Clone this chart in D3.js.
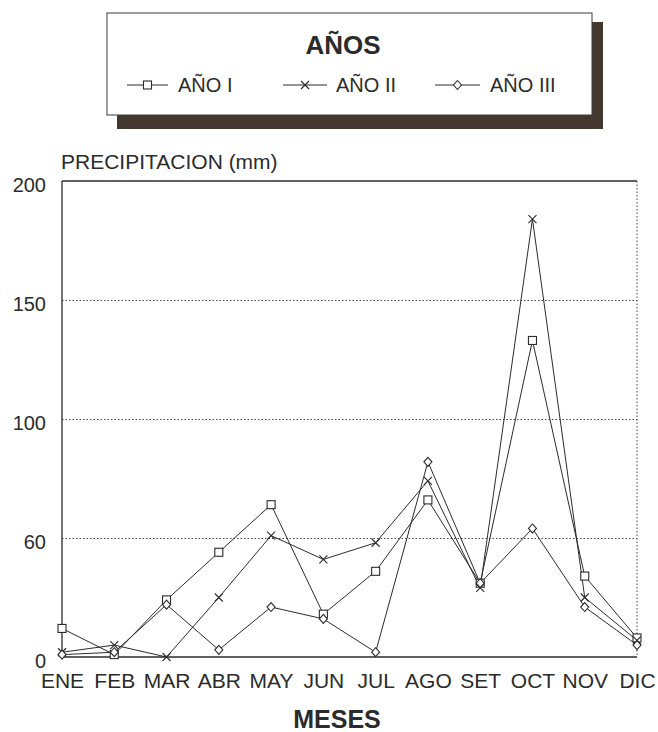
<!DOCTYPE html>
<html>
<head>
<meta charset="utf-8">
<script src="https://cdn.jsdelivr.net/npm/d3@7"></script>
<style>
  html, body { margin: 0; padding: 0; background: #ffffff; }
  svg { display: block; }
  text { font-family: "Liberation Sans", Arial, Helvetica, sans-serif; fill: #2b2b2b; }
</style>
</head>
<body>
<svg id="chart" width="658" height="732"></svg>
<script>
// ---- data ----
const months = ["ENE","FEB","MAR","ABR","MAY","JUN","JUL","AGO","SET","OCT","NOV","DIC"];
const anio1 = [12, 1, 24, 44, 64, 18, 36, 66, 31, 133, 34, 8];
const anio2 = [2, 5, 0, 25, 51, 41, 48, 74, 29, 184, 25, 7];
const anio3 = [1, 2, 22, 3, 21, 16, 2, 82, 31, 54, 21, 5];
const yTickValues = [0, 50, 100, 150, 200];
const yTickLabels = ["0", "60", "100", "150", "200"];
const seriesNames = ["AÑO I", "AÑO II", "AÑO III"];

(function () {
const ink = "#2b2b2b";
const svg = d3.select("#chart");

const pL = 62, pR = 637, pT = 181, pB = 657;
const x = d3.scalePoint().domain(months).range([pL, pR]).padding(0);
const y = d3.scaleLinear().domain([0, 200]).range([pB, pT]);

// ---- legend box with shadow ----
const lg = svg.append("g");
lg.append("rect").attr("x", 117).attr("y", 22).attr("width", 486).attr("height", 107)
  .attr("fill", "#44372e");
lg.append("rect").attr("x", 107).attr("y", 13).attr("width", 485).attr("height", 102)
  .attr("fill", "#ffffff").attr("stroke", "#3a3a3a").attr("stroke-width", 1);
lg.append("text").attr("x", 343).attr("y", 54).attr("text-anchor", "middle")
  .attr("font-size", 26).attr("font-weight", "bold").text("AÑOS");

const legendPos = [
  {x0: 127, x1: 168, tx: 178},
  {x0: 283, x1: 327, tx: 336},
  {x0: 435, x1: 480, tx: 490}
];
const legY = 85;

function marker(g, kind, cx, cy) {
  if (kind === 0) {
    g.append("rect").attr("x", cx - 4).attr("y", cy - 4).attr("width", 8).attr("height", 8)
      .attr("fill", "#fff").attr("stroke", ink).attr("stroke-width", 1.1);
  } else if (kind === 1) {
    g.append("path").attr("d", `M${cx-4},${cy-4}L${cx+4},${cy+4}M${cx-4},${cy+4}L${cx+4},${cy-4}`)
      .attr("stroke", ink).attr("stroke-width", 1.1).attr("fill", "none");
  } else {
    g.append("path").attr("d", `M${cx},${cy-4.5}L${cx+4},${cy}L${cx},${cy+4.5}L${cx-4},${cy}Z`)
      .attr("fill", "#fff").attr("stroke", ink).attr("stroke-width", 1.1);
  }
}

seriesNames.forEach((name, i) => {
  const p = legendPos[i];
  lg.append("line").attr("x1", p.x0).attr("x2", p.x1).attr("y1", legY).attr("y2", legY)
    .attr("stroke", ink).attr("stroke-width", 1);
  marker(lg, i, (p.x0 + p.x1) / 2, legY);
  lg.append("text").attr("x", p.tx).attr("y", legY + 7).attr("font-size", 20).text(name);
});

// ---- grid lines ----
const grid = svg.append("g").attr("transform", `translate(${pL},0)`)
  .call(d3.axisLeft(y).tickValues([50, 100, 150]).tickSize(-(pR - pL)).tickFormat(""));
grid.select(".domain").remove();
grid.selectAll(".tick line").attr("stroke", "#444").attr("stroke-width", 1)
  .attr("stroke-dasharray", "1.5,2");

// ---- frame ----
svg.append("line").attr("x1", pL).attr("x2", pR).attr("y1", pT).attr("y2", pT)
  .attr("stroke", ink).attr("stroke-width", 1.3);
svg.append("line").attr("x1", pL).attr("x2", pR).attr("y1", pB).attr("y2", pB)
  .attr("stroke", ink).attr("stroke-width", 1.3);
svg.append("line").attr("x1", pL).attr("x2", pL).attr("y1", pT).attr("y2", pB)
  .attr("stroke", ink).attr("stroke-width", 1.3);
svg.append("line").attr("x1", pR).attr("x2", pR).attr("y1", pT).attr("y2", pB)
  .attr("stroke", "#444").attr("stroke-width", 1).attr("stroke-dasharray", "1.5,2");

// ---- y axis labels ----
const yAxis = svg.append("g").attr("transform", `translate(46,0)`)
  .call(d3.axisLeft(y).tickValues(yTickValues).tickSize(0)
    .tickFormat((d, i) => yTickLabels[i]));
yAxis.select(".domain").remove();
yAxis.selectAll(".tick text").attr("font-size", 20).attr("fill", ink)
  .attr("font-family", "'Liberation Sans', Arial, sans-serif")
  .attr("x", 0).attr("dy", "0.5em").attr("text-anchor", "end");

svg.append("text").attr("x", 61).attr("y", 169).attr("font-size", 21).text("PRECIPITACION (mm)");

// ---- x axis labels ----
const xAxis = svg.append("g").attr("transform", `translate(0,${pB})`)
  .call(d3.axisBottom(x).tickSize(0));
xAxis.select(".domain").remove();
xAxis.selectAll(".tick text").attr("font-size", 21).attr("fill", ink)
  .attr("font-family", "'Liberation Sans', Arial, sans-serif")
  .attr("y", 31).attr("dy", 0);

svg.append("text").attr("x", 337).attr("y", 728).attr("text-anchor", "middle")
  .attr("font-size", 25).attr("font-weight", "bold").text("MESES");

// ---- series ----
const allSeries = [anio1, anio2, anio3];
const line = d3.line().x((d, i) => x(months[i])).y(d => y(d));
const plot = svg.append("g");
allSeries.forEach(vals => {
  plot.append("path").attr("d", line(vals)).attr("fill", "none")
    .attr("stroke", ink).attr("stroke-width", 1);
});
allSeries.forEach((vals, si) => {
  vals.forEach((v, i) => marker(plot, si, x(months[i]), y(v)));
});
})();
</script>
</body>
</html>
